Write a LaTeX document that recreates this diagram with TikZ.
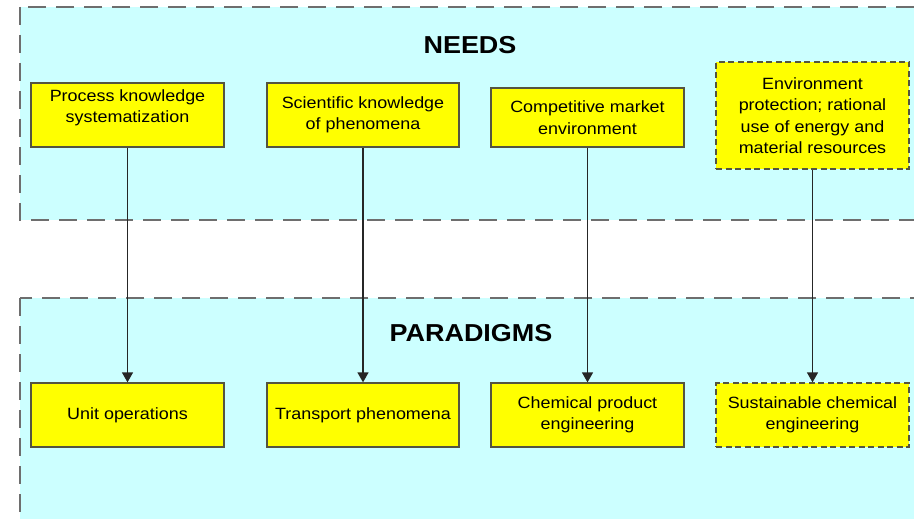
\documentclass[tikz,border=0pt]{standalone}
\usepackage{fontspec}
\setmainfont{Liberation Sans}[FakeStretch=1.1]
\usetikzlibrary{arrows.meta}
\definecolor{panelfill}{HTML}{CCFFFF}
\definecolor{panelline}{HTML}{6E6E6E}
\definecolor{boxfill}{HTML}{FFFF00}
\definecolor{boxline}{HTML}{55553F}

\begin{document}
\begin{tikzpicture}[x=1pt,y=1pt,
  panel/.style={fill=panelfill, draw=panelline, line width=2pt, dash pattern=on 18pt off 10pt},
  box/.style={rectangle, fill=boxfill, draw=boxline, line width=1.3pt,
    minimum width=193pt, minimum height=64pt, align=center, inner sep=2pt,
    font=\fontsize{16.3}{21.5}\selectfont},
  dashbox/.style={box, dash pattern=on 6pt off 3.5pt},
  boxtext/.style={align=center, inner sep=0pt, font=\fontsize{16.3}{21.5}\selectfont},
  title/.style={font=\fontsize{24.5}{28}\selectfont\bfseries},
  flow/.style={line width=1.4pt, draw=black!85, -{Triangle[length=10pt,width=11pt]}}]
\useasboundingbox (0,0) rectangle (914,-519);
\fill[white] (0,0) rectangle (914,-519);

% the two dashed bands, running off the right and bottom edges
\begin{scope}
  \clip (0,0) rectangle (914,-519);
  \draw[panel] (20,-7) rectangle (940,-220);
  \draw[panel] (20,-298) rectangle (940,-560);
\end{scope}

\node[title] (needs) at (470,-45) {NEEDS};
\node[title] (paradigms) at (471,-333) {PARADIGMS};

% needs
\node[box] (n1) at (127.5,-115) {};
\node[boxtext] (n1t) at (127.5,-108) {Process knowledge\\systematization};
\node[box, minimum width=192pt] (n2) at (363,-115) {Scientific knowledge\\of phenomena};
\node[box, minimum height=59pt] (n3) at (587.5,-117.5) {Competitive market\\environment};
\node[dashbox, minimum height=107pt] (n4) at (812.5,-115.5)
  {Environment\\protection; rational\\use of energy and\\material resources};

% paradigms
\node[box] (p1) at (127.5,-415) {Unit operations};
\node[box, minimum width=192pt] (p2) at (363,-415) {Transport phenomena};
\node[box] (p3) at (587.5,-415) {Chemical product\\engineering};
\node[dashbox] (p4) at (812.5,-415) {Sustainable chemical\\engineering};

% connectors
\draw[flow] (n1.south) -- (p1.north);
\draw[flow] (n2.south) -- (p2.north);
\draw[flow] (n3.south) -- (p3.north);
\draw[flow] (n4.south) -- (p4.north);
\end{tikzpicture}
\end{document}
